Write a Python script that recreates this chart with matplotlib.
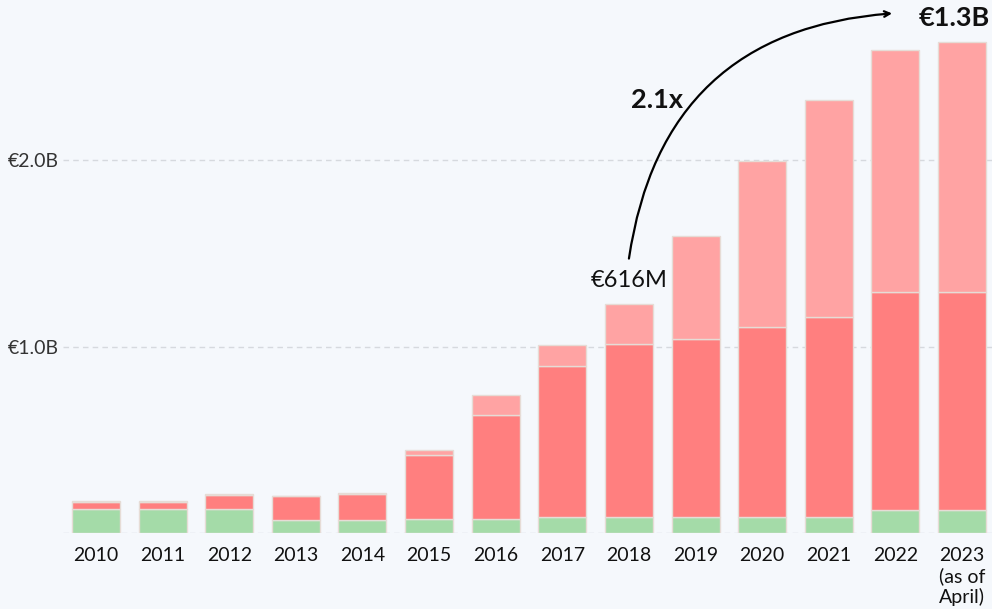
import numpy as np
import matplotlib.pyplot as plt

years = ["2010", "2011", "2012", "2013", "2014", "2015", "2016",
         "2017", "2018", "2019", "2020", "2021", "2022", "2023\n(as of\nApril)"]

# segment heights in billions of euros, bottom to top
green = [0.131, 0.131, 0.131, 0.072, 0.072, 0.074, 0.074,
         0.085, 0.085, 0.085, 0.085, 0.085, 0.121, 0.121]
red = [0.038, 0.038, 0.072, 0.126, 0.140, 0.342, 0.562,
       0.810, 0.928, 0.957, 1.020, 1.073, 1.174, 1.174]
light = [0.004, 0.004, 0.004, 0.003, 0.005, 0.032, 0.107,
         0.115, 0.215, 0.551, 0.893, 1.165, 1.300, 1.338]

yticks = [1.0, 2.0]
ytick_labels = ["€1.0B", "€2.0B"]

plt.rcParams['font.family'] = ['Lato', 'DejaVu Sans']

bg = "#f5f8fc"
fig = plt.figure(figsize=(9.92, 6.09), dpi=100, facecolor=bg)
ax = fig.add_axes([63 / 992, 76 / 609, 929 / 992, 533 / 609])
ax.set_facecolor(bg)

x = np.arange(len(years))
green = np.array(green)
red = np.array(red)
light = np.array(light)

edge = "#e6dcd6"
ax.bar(x, green, width=0.72, color="#a4dba8", edgecolor=edge, linewidth=1, zorder=3)
ax.bar(x, red, width=0.72, bottom=green, color="#ff7f7f", edgecolor=edge, linewidth=1, zorder=3)
ax.bar(x, light, width=0.72, bottom=green + red, color="#ffa3a3", edgecolor=edge, linewidth=1, zorder=3)

ax.set_xlim(-0.495, 13.45)
ax.set_ylim(0, 533 / 186.3)

for y in [0] + yticks:
    ax.axhline(y, color="#d6d9de", linestyle=(0, (4, 3)), linewidth=1, zorder=1)

ax.set_yticks(yticks)
ax.set_yticklabels(ytick_labels)
ax.set_xticks(x)
ax.set_xticklabels(years, linespacing=1.2)
ax.tick_params(axis="y", length=0, pad=3, labelsize=14, labelcolor="#333333")
ax.tick_params(axis="x", length=0, pad=10, labelsize=14, labelcolor="#111111")
for s in ax.spines.values():
    s.set_visible(False)

# growth annotation
ax.text(8, 1.355, "€616M", ha="center", va="center", fontsize=17, color="#111111")
ax.annotate("", xy=(11.95, 2.789), xytext=(8, 1.473),
            arrowprops=dict(arrowstyle="->", color="black", lw=1.6,
                            shrinkA=0, shrinkB=0,
                            connectionstyle="arc3,rad=-0.4"),
            annotation_clip=False)
ax.text(8.42, 2.322, "2.1x", ha="center", va="center", fontsize=19.5,
        fontweight="bold", color="#111111")
ax.text(12.88, 2.767, "€1.3B", ha="center", va="center", fontsize=19.5,
        fontweight="bold", color="#111111", clip_on=False)

fig.savefig("out.png", dpi=100, facecolor=bg)
